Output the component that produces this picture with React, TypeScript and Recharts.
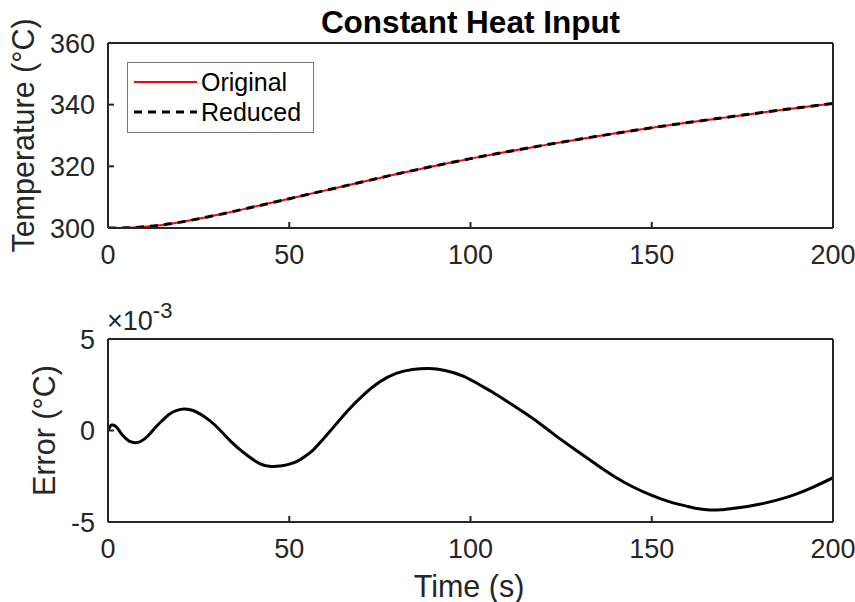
import { LineChart, Line, XAxis, YAxis, Legend, Label } from 'recharts';

const timeTicks = [0, 50, 100, 150, 200];
const tempTicks = [300, 320, 340, 360];
const errorTicks = [-5, 0, 5];

// top panel: temperature (°C)
const tempTime = [0, 5, 10, 15, 20, 25, 30, 40, 50, 60, 70, 80, 90, 100, 110, 120, 130, 140, 150, 160, 170, 180, 190, 200];
const originalTemp = [300.0, 300.05, 300.4, 301.0, 301.9, 303.0, 304.2, 306.8, 309.5, 312.2, 314.9, 317.6, 320.1, 322.5, 324.7, 326.8, 328.8, 330.7, 332.5, 334.2, 335.8, 337.4, 338.9, 340.4];
const reducedTemp = [300.0, 300.05, 300.4, 301.0, 301.9, 303.0, 304.2, 306.8, 309.5, 312.2, 314.9, 317.6, 320.1, 322.5, 324.7, 326.8, 328.8, 330.7, 332.5, 334.2, 335.8, 337.4, 338.9, 340.4];

// bottom panel: error, in units of 1e-3 °C
const errTime = [0, 0.5, 1, 2, 3, 4, 5, 6, 7.5, 9, 11, 13, 15, 17, 19, 21, 23, 25, 28, 31, 34, 38, 42, 45, 48, 50, 52, 54, 56.5, 58.5, 61, 66, 70.5, 75, 79.5, 84, 88.5, 93, 98, 102.5, 106, 110, 115, 120, 125, 130, 135, 140, 145, 150, 155, 160, 163, 166, 169, 172, 176, 180, 185, 190, 195, 200];
const errMilli = [0, 0.2, 0.3, 0.25, 0.02, -0.25, -0.45, -0.6, -0.67, -0.6, -0.3, 0.15, 0.55, 0.9, 1.1, 1.18, 1.12, 0.95, 0.55, 0.0, -0.62, -1.3, -1.82, -1.97, -1.93, -1.84, -1.7, -1.46, -1.08, -0.66, -0.1, 1.05, 1.95, 2.66, 3.12, 3.33, 3.39, 3.28, 2.97, 2.5, 2.1, 1.6, 0.95, 0.25, -0.5, -1.2, -1.9, -2.55, -3.1, -3.55, -3.9, -4.15, -4.28, -4.34, -4.33, -4.27, -4.17, -4.02, -3.78, -3.46, -3.05, -2.58];

const tempData = tempTime.map((t, i) => ({ t, original: originalTemp[i], reduced: reducedTemp[i] }));
const errData = errTime.map((t, i) => ({ t, err: errMilli[i] }));

const ink = '#262626';
const font = '"Liberation Sans", Arial, sans-serif';
const tickStyle = { fill: ink, fontSize: 27 };
const lineStyle = { stroke: ink, strokeWidth: 2 };

const LegendBox = () => (
  <svg width={188} height={72} style={{ display: 'block' }}>
    <rect x={0.5} y={0.5} width={186} height={70} fill="#fff" stroke="#777" strokeWidth={1} />
    <line x1={7} x2={70} y1={20} y2={20} stroke="#ff0000" strokeWidth={2} />
    <text x={74} y={29} fontSize={25} fill="#000">Original</text>
    <line x1={7} x2={70} y1={50} y2={50} stroke="#000" strokeWidth={3} strokeDasharray="8 6" />
    <text x={74} y={59} fontSize={25} fill="#000">Reduced</text>
  </svg>
);

export default function App() {
  return (
    <div style={{ position: 'absolute', left: 0, top: 0, width: 855, height: 602, background: '#fff', fontFamily: font }}>
      <div style={{ position: 'absolute', left: 0, top: 0 }}>
        <LineChart width={855} height={280} data={tempData} margin={{ top: 42, right: 21, bottom: 51, left: 107 }}>
          <XAxis dataKey="t" type="number" domain={[0, 200]} ticks={timeTicks} interval={0} height={1}
            tickSize={-6} tickMargin={23} tick={tickStyle} axisLine={lineStyle} tickLine={lineStyle} allowDataOverflow />
          <XAxis xAxisId="top" orientation="top" type="number" domain={[0, 200]} ticks={timeTicks} interval={0} height={1}
            tickSize={-6} tick={false} axisLine={lineStyle} tickLine={lineStyle} allowDataOverflow>
            <Label content={() => (
              <text x={470.5} y={33} textAnchor="middle" fontSize={31.5} fontWeight="bold" fill="#000">Constant Heat Input</text>
            )} />
          </XAxis>
          <YAxis type="number" domain={[300, 360]} ticks={tempTicks} interval={0} width={1}
            tickSize={-6} tickMargin={19} tick={tickStyle} axisLine={lineStyle} tickLine={lineStyle} allowDataOverflow>
            <Label content={() => (
              <text transform="translate(34,135.5) rotate(-90)" textAnchor="middle" fontSize={30.5} fill={ink}>Temperature (°C)</text>
            )} />
          </YAxis>
          <YAxis yAxisId="right" orientation="right" type="number" domain={[300, 360]} ticks={tempTicks} interval={0} width={1}
            tickSize={-6} tick={false} axisLine={lineStyle} tickLine={lineStyle} allowDataOverflow />
          <Legend layout="horizontal" verticalAlign="middle" align="center" content={() => <LegendBox />}
            wrapperStyle={{ left: 127, top: 62, width: 188, height: 72 }} />
          <Line dataKey="original" type="monotone" stroke="#ff0000" strokeWidth={2} dot={false} activeDot={false} isAnimationActive={false} />
          <Line dataKey="reduced" type="monotone" stroke="#000" strokeWidth={3} strokeDasharray="8 6" dot={false} activeDot={false} isAnimationActive={false} />
        </LineChart>
      </div>
      <div style={{ position: 'absolute', left: 0, top: 280 }}>
        <LineChart width={855} height={322} data={errData} margin={{ top: 58, right: 21, bottom: 79, left: 107 }}>
          <XAxis dataKey="t" type="number" domain={[0, 200]} ticks={timeTicks} interval={0} height={1}
            tickSize={-6} tickMargin={23} tick={tickStyle} axisLine={lineStyle} tickLine={lineStyle} allowDataOverflow>
            <Label content={() => (
              <text x={469} y={317} textAnchor="middle" fontSize={30.5} fill={ink}>Time (s)</text>
            )} />
          </XAxis>
          <XAxis xAxisId="top" orientation="top" type="number" domain={[0, 200]} ticks={timeTicks} interval={0} height={1}
            tickSize={-6} tick={false} axisLine={lineStyle} tickLine={lineStyle} allowDataOverflow>
            <Label content={() => (
              <text x={107} y={50} fill={ink}>
                <tspan fontSize={27}>×10</tspan>
                <tspan fontSize={22} dy={-12.5}>-3</tspan>
              </text>
            )} />
          </XAxis>
          <YAxis type="number" domain={[-5, 5]} ticks={errorTicks} interval={0} width={1}
            tickSize={-6} tickMargin={19} tick={tickStyle} axisLine={lineStyle} tickLine={lineStyle} allowDataOverflow>
            <Label content={() => (
              <text transform="translate(55,150.5) rotate(-90)" textAnchor="middle" fontSize={30.5} fill={ink}>Error (°C)</text>
            )} />
          </YAxis>
          <YAxis yAxisId="right" orientation="right" type="number" domain={[-5, 5]} ticks={errorTicks} interval={0} width={1}
            tickSize={-6} tick={false} axisLine={lineStyle} tickLine={lineStyle} allowDataOverflow />
          <Line dataKey="err" type="natural" stroke="#000" strokeWidth={3} dot={false} activeDot={false} isAnimationActive={false} />
        </LineChart>
      </div>
    </div>
  );
}
